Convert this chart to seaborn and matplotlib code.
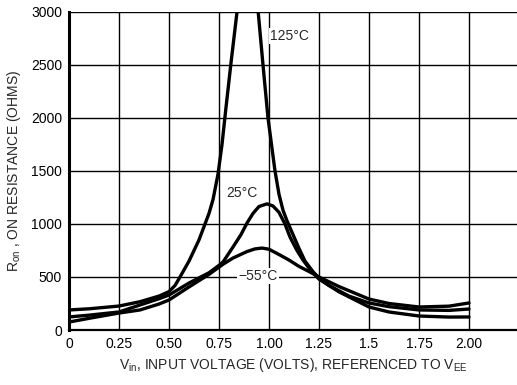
import matplotlib
matplotlib.use("Agg")
import matplotlib.pyplot as plt
import seaborn as sns
import pandas as pd

# --- data ---
x_125 = [0, 0.1, 0.25, 0.355, 0.45, 0.5, 0.53, 0.555, 0.6, 0.65, 0.7, 0.72, 0.745, 0.765,
         0.785, 0.81, 0.84, 0.87, 0.895, 0.92, 0.946, 0.97, 0.995, 1.03, 1.05, 1.07, 1.09,
         1.12, 1.15, 1.18, 1.22, 1.25, 1.3, 1.4, 1.5, 1.6, 1.75, 1.9, 2.0]
r_125 = [189, 200, 226, 267, 320, 362, 420, 500, 650, 850, 1100, 1230, 1470, 1750,
         2100, 2520, 3000, 3450, 3600, 3450, 3000, 2500, 2000, 1500, 1280, 1130, 1030,
         900, 770, 650, 550, 490, 420, 320, 255, 220, 189, 185, 198]

x_25 = [0, 0.1, 0.25, 0.355, 0.45, 0.5, 0.6, 0.7, 0.75, 0.77, 0.82, 0.86, 0.89, 0.92,
        0.95, 0.99, 1.02, 1.05, 1.08, 1.105, 1.14, 1.17, 1.21, 1.25, 1.35, 1.5, 1.6,
        1.75, 1.9, 2.0]
r_25 = [123, 140, 170, 236, 295, 330, 443, 540, 610, 641, 783, 900, 1009, 1100,
        1165, 1190, 1170, 1110, 1000, 877, 750, 660, 560, 480, 360, 217, 170,
        132, 122, 123]

x_m55 = [0, 0.1, 0.25, 0.355, 0.45, 0.5, 0.6, 0.7, 0.73, 0.77, 0.82, 0.89, 0.93, 0.965,
         1.0, 1.055, 1.1, 1.15, 1.205, 1.25, 1.35, 1.5, 1.6, 1.75, 1.9, 2.0]
r_m55 = [75, 110, 160, 189, 245, 283, 406, 525, 566, 620, 679, 740, 765, 773,
         762, 707, 660, 600, 547, 500, 410, 292, 250, 217, 225, 255]

x_ticks = [0, 0.25, 0.5, 0.75, 1.0, 1.25, 1.5, 1.75, 2.0]
x_ticklabels = ["0", "0.25", "0.50", "0.75", "1.00", "1.25", "1.5", "1.75", "2.00"]
y_ticks = [0, 500, 1000, 1500, 2000, 2500, 3000]
curve_labels = ["125°C", "25°C", "\u221255°C"]

sns.set_style("white")
plt.rcParams['font.family'] = ['Liberation Sans', 'DejaVu Sans']
plt.rcParams['mathtext.default'] = 'regular'

fig = plt.figure(figsize=(5.17, 3.85), dpi=100)
ax = fig.add_axes([69/517, 1 - 330/385, 1 - 69/517, (330 - 12)/385])

df = pd.concat([
    pd.DataFrame({"v": x_125, "r": r_125, "t": curve_labels[0]}),
    pd.DataFrame({"v": x_25, "r": r_25, "t": curve_labels[1]}),
    pd.DataFrame({"v": x_m55, "r": r_m55, "t": curve_labels[2]}),
])
sns.lineplot(data=df, x="v", y="r", units="t", estimator=None, color="black",
             linewidth=2.4, sort=False, ax=ax, zorder=3)

ax.set_xlim(0, 2.24)
ax.set_ylim(0, 3000)
ax.set_xticks(x_ticks)
ax.set_xticklabels(x_ticklabels)
ax.set_yticks(y_ticks)
ax.grid(True, color="black", linewidth=1.0)
ax.set_axisbelow(True)
ax.tick_params(length=0, labelsize=10, colors="black", pad=5)
for s in ["top", "right"]:
    ax.spines[s].set_visible(False)
ax.spines["left"].set_linewidth(2.2)
ax.spines["left"].set_color("black")
ax.spines["bottom"].set_linewidth(1.6)
ax.spines["bottom"].set_color("black")

ax.set_xlabel(r"V$_{in}$, INPUT VOLTAGE (VOLTS), REFERENCED TO V$_{EE}$", fontsize=10, labelpad=4)
ax.set_ylabel(r"R$_{on}$ , ON RESISTANCE (OHMS)", fontsize=10, labelpad=6)

bb = dict(facecolor="white", edgecolor="none", pad=1.0)
ax.text(1.005, 2773, curve_labels[0], fontsize=10, ha="left", va="center", bbox=bb, zorder=4)
ax.text(0.785, 1292, curve_labels[1], fontsize=10, ha="left", va="center", bbox=bb, zorder=4)
ax.text(0.845, 509, curve_labels[2], fontsize=10, ha="left", va="center", bbox=bb, zorder=4)

fig.savefig("out.png", dpi=100)
